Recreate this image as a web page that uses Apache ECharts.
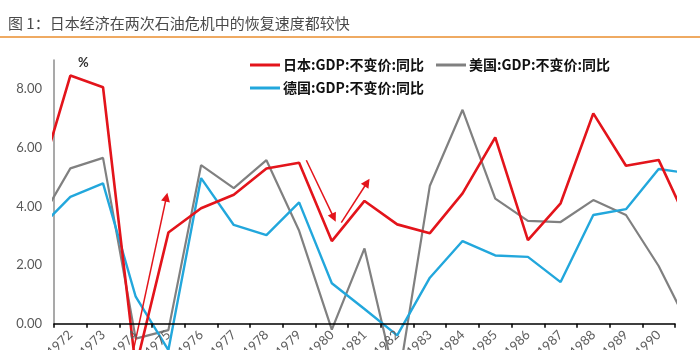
<!DOCTYPE html>
<html>
<head>
<meta charset="utf-8">
<script src="https://cdn.jsdelivr.net/npm/echarts@6/dist/echarts.min.js"></script>
<style>
  html, body { margin: 0; padding: 0; background: #fff; }
  #chart { width: 700px; height: 350px; }
</style>
</head>
<body>
<div id="chart"></div>
<script>
  // 年份（首尾两年只露出一半，被坐标区裁掉）
  var years = [1971, 1972, 1973, 1974, 1975, 1976, 1977, 1978, 1979, 1980,
               1981, 1982, 1983, 1984, 1985, 1986, 1987, 1988, 1989, 1990, 1991];
  var yearLabels = ['1972', '1973', '1974', '1975', '1976', '1977', '1978', '1979', '1980',
                    '1981', '1982', '1983', '1984', '1985', '1986', '1987', '1988', '1989', '1990'];
  var japan = [4.69, 8.47, 8.07, -1.5, 3.11, 3.94, 4.40, 5.30, 5.49, 2.82,
               4.19, 3.39, 3.09, 4.45, 6.36, 2.85, 4.11, 7.18, 5.39, 5.59, 3.19];
  var usa = [3.38, 5.30, 5.66, -0.51, -0.22, 5.41, 4.63, 5.58, 3.17, -0.20,
             2.57, -2.2, 4.71, 7.30, 4.27, 3.51, 3.47, 4.22, 3.71, 1.97, -0.25];
  var germany = [3.19, 4.33, 4.79, 0.92, -0.9, 4.97, 3.37, 3.02, 4.14, 1.38,
                 0.5, -0.40, 1.57, 2.82, 2.33, 2.28, 1.42, 3.71, 3.91, 5.28, 5.12];
  var seriesNames = ['日本:GDP:不变价:同比', '美国:GDP:不变价:同比', '德国:GDP:不变价:同比'];
  // 红色箭头标注：[起点年份, 起点值, 终点年份, 终点值]
  var arrows = [
    [1973.93, -0.9, 1974.94, 4.32],
    [1979.22, 5.58, 1980.06, 3.62],
    [1980.29, 3.45, 1981.08, 4.82]
  ];

  function pairs(vals){
    return years.map(function (y, i){ return [y, vals[i]]; });
  }

  var RED = '#E3141B', GREY = '#808080', BLUE = '#22A7DC';
  var cjk = '"Noto Sans CJK SC", sans-serif';
  var UNIT = 29.3;   // 每 1 个百分点的像素高度

  var myChart = echarts.init(document.getElementById('chart'));
  var option = {
    animation: false,
    title: {
      text: '图 1：日本经济在两次石油危机中的恢复速度都较快',
      left: 3,
      top: 11,
      textStyle: { fontSize: 15, fontWeight: 'normal', color: '#4A4A4A', fontFamily: cjk }
    },
    graphic: [
      { type: 'line', shape: { x1: 0, y1: 37, x2: 700, y2: 37 }, style: { stroke: '#EFAA62', lineWidth: 2 } },
      { type: 'text', left: 78, top: 56, style: { text: '%', font: 'bold 13px Lato, sans-serif', fill: '#333' } }
    ],
    legend: [
      {
        data: [seriesNames[0], seriesNames[1]],
        left: 245, top: 53,
        icon: 'rect', itemWidth: 30, itemHeight: 3, itemGap: 12,
        textStyle: { fontSize: 14, fontWeight: 'bold', color: '#111', fontFamily: cjk, padding: [0, 0, 0, -2] }
      },
      {
        data: [seriesNames[2]],
        left: 245, top: 76,
        icon: 'rect', itemWidth: 30, itemHeight: 3,
        textStyle: { fontSize: 14, fontWeight: 'bold', color: '#111', fontFamily: cjk, padding: [0, 0, 0, -2] }
      }
    ],
    // grid 0 画折线（向下延伸到画布外，负值被画布截断）；grid 1 只负责坐标轴
    grid: [
      { left: 54, top: 60, width: 621, height: 13 * UNIT, outerBoundsMode: 'none', containLabel: false },
      { left: 54, top: 60, width: 621, height: 9 * UNIT, outerBoundsMode: 'none', containLabel: false }
    ],
    xAxis: [
      { gridIndex: 0, type: 'value', min: 1971.5, max: 1990.5, show: false },
      {
        gridIndex: 1,
        type: 'category',
        data: yearLabels,
        boundaryGap: true,
        axisLine: { lineStyle: { color: '#000', width: 1.5 } },
        axisTick: { show: true, length: 4, lineStyle: { color: '#000', width: 1.5 } },
        axisLabel: { interval: 0, rotate: 45, margin: 9, fontSize: 13, color: '#5F5F5F', fontFamily: 'Lato, sans-serif' },
        splitLine: { show: false },
        z: 5
      }
    ],
    yAxis: [
      { gridIndex: 0, type: 'value', min: -4, max: 9, show: false },
      {
        gridIndex: 1,
        type: 'value',
        min: 0,
        max: 9,
        interval: 2,
        axisLine: { show: true, lineStyle: { color: '#8C8C8C', width: 1.5 } },
        axisTick: { show: false },
        splitLine: { show: false },
        axisLabel: {
          margin: 12, fontSize: 13, color: '#595959', fontFamily: 'Lato, sans-serif',
          formatter: function (v){ return v % 2 === 0 ? v.toFixed(2) : ''; }
        }
      }
    ],
    series: [
      {
        name: seriesNames[0],
        type: 'line',
        xAxisIndex: 0,
        yAxisIndex: 0,
        data: pairs(japan),
        symbol: 'none',
        z: 4,
        itemStyle: { color: RED },
        lineStyle: { color: RED, width: 2.6 },
        markLine: {
          silent: true,
          symbol: ['none', 'triangle'],
          symbolSize: 9,
          label: { show: false },
          lineStyle: { color: RED, width: 1.5, type: 'solid' },
          data: arrows.map(function (a){
            return [{ coord: [a[0], a[1]] }, { coord: [a[2], a[3]] }];
          })
        }
      },
      {
        name: seriesNames[1],
        type: 'line',
        xAxisIndex: 0,
        yAxisIndex: 0,
        data: pairs(usa),
        symbol: 'none',
        z: 2,
        itemStyle: { color: GREY },
        lineStyle: { color: GREY, width: 2.2 }
      },
      {
        name: seriesNames[2],
        type: 'line',
        xAxisIndex: 0,
        yAxisIndex: 0,
        data: pairs(germany),
        symbol: 'none',
        z: 3,
        itemStyle: { color: BLUE },
        lineStyle: { color: BLUE, width: 2.4 }
      }
    ]
  };

  myChart.setOption(option);
</script>
</body>
</html>
